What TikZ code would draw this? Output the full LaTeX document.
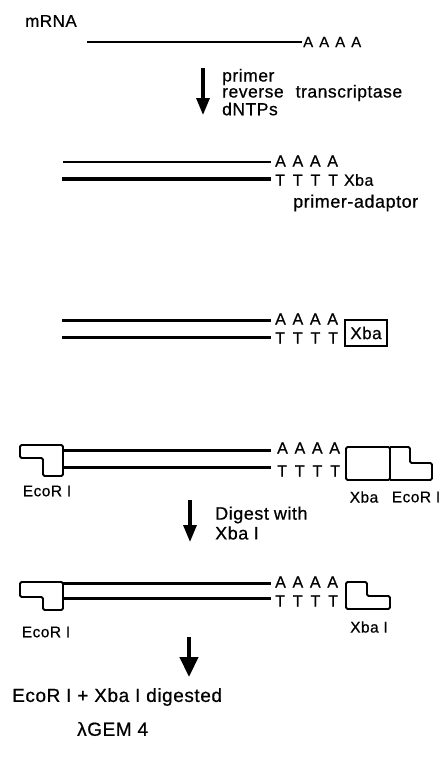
\documentclass[tikz,border=0pt]{standalone}
\usepackage{fontspec}
\setmainfont[LetterSpace=3,FakeBold=0.6]{Liberation Sans}
\usetikzlibrary{arrows.meta}
\newcommand\myletters[2]{#1\hspace{#2}#1\hspace{#2}#1\hspace{#2}#1}
\newcommand\fs[1]{\fontsize{#1}{#1}\selectfont}
\begin{document}
\begin{tikzpicture}[x=1pt,y=-1pt,
  lbl/.style={anchor=west,inner sep=0pt,font=\fs{18}},
  bases/.style={anchor=west,inner sep=0pt,font=\fs{16}},
  small/.style={inner sep=0pt,font=\fs{15.5}},
  reagent/.style={anchor=west,inner sep=0pt,font=\fs{17.5}},
  strand/.style={line width=3pt},
  adaptor/.style={draw,line width=1.8pt,rounded corners=1.5pt,line join=round},
  bigarrow/.style={line width=3.2pt,-{Triangle[width=13pt,length=17pt]}},
  hugearrow/.style={line width=4.5pt,-{Triangle[width=18pt,length=20pt]}}]
\useasboundingbox (0,0) rectangle (443,776);

% --- mRNA ---
\node[lbl,font=\fs{17}] (mrna) at (25,21) {mRNA};
\coordinate (m1) at (87,42);
\coordinate (m2) at (302,42);
\draw[line width=1.4pt] (m1) -- (m2);
\node[bases,font=\fs{15}] (a0) at (303,42) {\myletters{A}{6pt}};

% arrow 1
\coordinate (a1s) at (203,68);
\coordinate (a1e) at (203,115);
\draw[bigarrow] (a1s) -- (a1e);
\node[reagent] (t1) at (222,77) {primer};
\node[reagent] (t2) at (222,93) {reverse\hspace{12pt}transcriptase};
\node[reagent] (t3) at (222,109) {dNTPs};

% --- block 2 ---
\coordinate (b2a) at (63,162);
\coordinate (b2b) at (271,162);
\coordinate (b2c) at (62,179);
\coordinate (b2d) at (271,179);
\draw[line width=2.6pt] (b2a) -- (b2b);
\draw[line width=3.6pt] (b2c) -- (b2d);
\node[bases] (a2) at (275,161) {\myletters{A}{6.7pt}};
\node[bases] (t2b) at (275,180) {\myletters{T}{7.9pt}\hspace{6pt}Xba};
\node[lbl] (pa) at (293,203) {primer-adaptor};

% --- block 3 ---
\coordinate (b3a) at (62,320);
\coordinate (b3b) at (271,320);
\coordinate (b3c) at (62,337);
\coordinate (b3d) at (271,337);
\draw[strand] (b3a) -- (b3b);
\draw[strand] (b3c) -- (b3d);
\node[bases] (a3) at (275,319) {\myletters{A}{6.7pt}};
\node[bases] (t3b) at (275,338) {\myletters{T}{7.9pt}};
\node[draw,line width=1.8pt,minimum width=42pt,minimum height=26pt,inner sep=0pt,font=\fs{17}] (xbabox) at (366,333) {Xba};

% --- block 4 ---
\draw[adaptor] (20,445) -- (63,445) -- (63,476) -- (43,476) -- (43,458) -- (20,458) -- cycle;
\coordinate (b4a) at (63,450);
\coordinate (b4b) at (271,450);
\coordinate (b4c) at (63,467);
\coordinate (b4d) at (271,467);
\draw[strand] (b4a) -- (b4b);
\draw[strand] (b4c) -- (b4d);
\node[bases] (a4) at (277,448) {\myletters{A}{6.7pt}};
\node[bases] (t4) at (277,471) {\myletters{T}{7.9pt}};
\draw[adaptor] (346,447) rectangle (390,480);
\draw[adaptor] (390,447) -- (410,447) -- (410,463) -- (432,463) -- (432,480) -- (390,480);
\node[small] (eco4l) at (47,491) {EcoR I};
\node[small] (xba4) at (364,497) {Xba};
\node[small] (eco4r) at (416,497) {EcoR I};

% arrow 2
\coordinate (a2s) at (190,500);
\coordinate (a2e) at (190,542);
\draw[bigarrow] (a2s) -- (a2e);
\node[lbl] (d1) at (215,515) {Digest\hspace{5pt}with};
\node[lbl] (d2) at (215,533) {Xba I};

% --- block 5 ---
\draw[adaptor] (20,582) -- (63,582) -- (63,610) -- (43,610) -- (43,597) -- (20,597) -- cycle;
\coordinate (b5a) at (63,583);
\coordinate (b5b) at (271,583);
\coordinate (b5c) at (63,598);
\coordinate (b5d) at (271,598);
\draw[strand] (b5a) -- (b5b);
\draw[strand] (b5c) -- (b5d);
\node[bases] (a5) at (275,582) {\myletters{A}{6.7pt}};
\node[bases] (t5) at (275,601) {\myletters{T}{7.9pt}};
\draw[adaptor] (346,582) -- (367,582) -- (367,596) -- (390,596) -- (390,609) -- (346,609) -- cycle;
\node[small] (eco5l) at (46,632) {EcoR I};
\node[small] (xba5) at (369,627) {Xba I};

% arrow 3
\coordinate (a3s) at (189,637);
\coordinate (a3e) at (189,677);
\draw[hugearrow] (a3s) -- (a3e);

\node[anchor=west,inner sep=0pt,font=\fs{19}] (dig) at (12,697) {EcoR I + Xba I digested};
\node[anchor=west,inner sep=0pt,font=\fs{19}] (gem) at (77,729) {λGEM 4};
\end{tikzpicture}
\end{document}
